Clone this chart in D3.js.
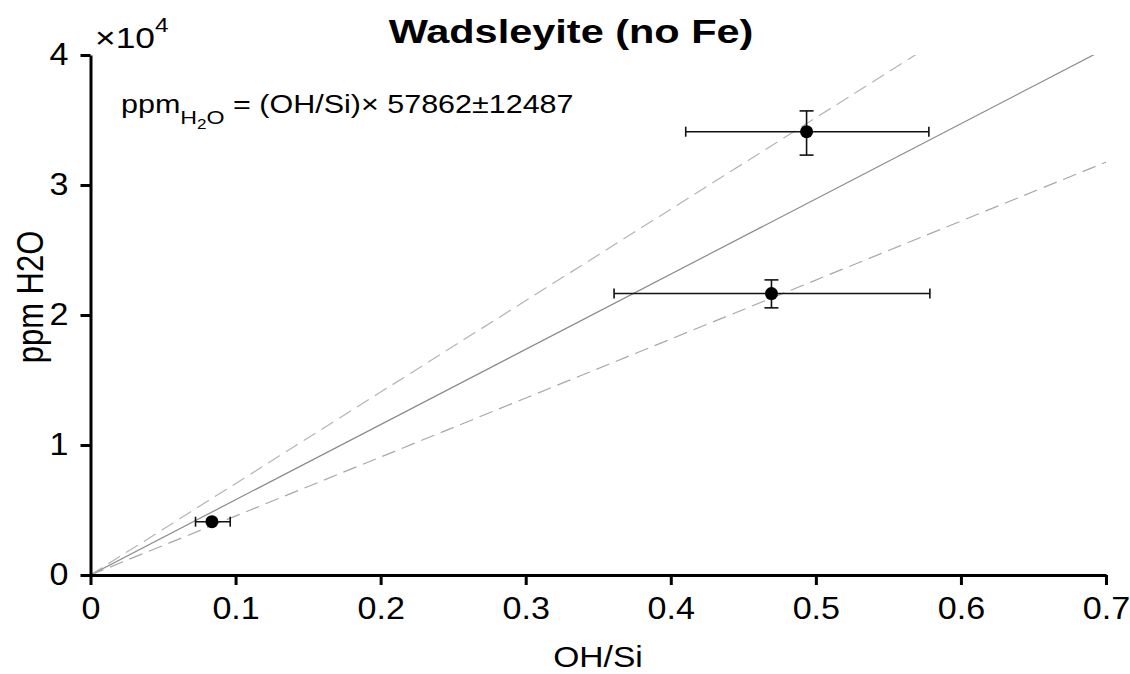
<!DOCTYPE html>
<html>
<head>
<meta charset="utf-8">
<script src="https://cdn.jsdelivr.net/npm/d3@7"></script>
<style>
  html, body { margin: 0; padding: 0; background: #fff; }
  svg { display: block; font-family: "Liberation Sans", Arial, sans-serif; }
</style>
</head>
<body>
<div id="chart"></div>
<script>
// OH/Si vs ppm H2O, wadsleyite calibration
const ohSi = [0.0837, 0.4694, 0.4936];
const ohSiLo = [0.0724, 0.3609, 0.4103];
const ohSiHi = [0.0963, 0.5786, 0.5779];
const ppm = [4100, 21650, 34100];
const ppmLo = [4100, 20550, 32300];
const ppmHi = [4100, 22700, 35700];

const slope = 57862;
const slopeErr = 12487;

const xTicks = [0, 0.1, 0.2, 0.3, 0.4, 0.5, 0.6, 0.7];
const yTicks = [0, 10000, 20000, 30000, 40000];

const W = 1130, H = 674;
const margin = { left: 90.5, top: 55, right: 24, bottom: 99 };
// the source figure's text is stretched sideways
const SX = 1.22;
const SXT = 1.1;

const svg = d3.select("#chart").append("svg")
  .attr("width", W).attr("height", H);

const x = d3.scaleLinear().domain([0, 0.7]).range([margin.left, W - margin.right]);
const y = d3.scaleLinear().domain([0, 40000]).range([H - margin.bottom, margin.top]);

svg.append("defs").append("clipPath").attr("id", "plot")
  .append("rect")
  .attr("x", x(0)).attr("y", y(40000))
  .attr("width", x(0.7) - x(0)).attr("height", y(0) - y(40000));

const fits = [
  { k: slope, dash: null, color: "#8a8a8a" },
  { k: slope + slopeErr, dash: "14,7", color: "#b4b4b4" },
  { k: slope - slopeErr, dash: "14,7", color: "#a8a8a8" }
];

const g = svg.append("g").attr("clip-path", "url(#plot)");
g.selectAll("line.fit").data(fits).join("line")
  .attr("class", "fit")
  .attr("x1", x(0)).attr("y1", y(0))
  .attr("x2", x(0.7)).attr("y2", d => y(d.k * 0.7))
  .attr("stroke", d => d.color)
  .attr("stroke-width", 1.2)
  .attr("stroke-dasharray", d => d.dash);

// error bars
const pts = ohSi.map((v, i) => ({ x: v, xl: ohSiLo[i], xh: ohSiHi[i], y: ppm[i], yl: ppmLo[i], yh: ppmHi[i] }));
const cap = 5;
const eb = svg.append("g").attr("stroke", "#111").attr("stroke-width", 1.6);
pts.forEach(p => {
  eb.append("line").attr("x1", x(p.xl)).attr("x2", x(p.xh)).attr("y1", y(p.y)).attr("y2", y(p.y));
  eb.append("line").attr("x1", x(p.xl)).attr("x2", x(p.xl)).attr("y1", y(p.y) - cap).attr("y2", y(p.y) + cap);
  eb.append("line").attr("x1", x(p.xh)).attr("x2", x(p.xh)).attr("y1", y(p.y) - cap).attr("y2", y(p.y) + cap);
  if (p.yh > p.yl) {
    eb.append("line").attr("x1", x(p.x)).attr("x2", x(p.x)).attr("y1", y(p.yl)).attr("y2", y(p.yh));
    eb.append("line").attr("x1", x(p.x) - cap - 2).attr("x2", x(p.x) + cap + 2).attr("y1", y(p.yl)).attr("y2", y(p.yl));
    eb.append("line").attr("x1", x(p.x) - cap - 2).attr("x2", x(p.x) + cap + 2).attr("y1", y(p.yh)).attr("y2", y(p.yh));
  }
});
svg.append("g").selectAll("circle").data(pts).join("circle")
  .attr("cx", d => x(d.x)).attr("cy", d => y(d.y)).attr("r", 6.5)
  .attr("fill", "#000");

// axes
const xAxis = svg.append("g").attr("transform", `translate(0,${y(0)})`)
  .call(d3.axisBottom(x).tickValues(xTicks).tickSize(10).tickSizeOuter(0).tickPadding(12)
    .tickFormat(d => d === 0 ? "0" : d3.format(".1f")(d)));
const yAxis = svg.append("g").attr("transform", `translate(${x(0)},0)`)
  .call(d3.axisLeft(y).tickValues(yTicks).tickSize(10).tickSizeOuter(0)
    .tickFormat(d => d / 10000));
[xAxis, yAxis].forEach(a => {
  a.select(".domain").attr("stroke", "#000").attr("stroke-width", 3);
  a.selectAll(".tick line").attr("stroke", "#000").attr("stroke-width", 3);
  a.selectAll(".tick text").attr("fill", "#000")
    .attr("transform", `scale(${SXT},1)`)
    .style("font-size", "31px").style("font-family", "Liberation Sans, Arial, sans-serif");
});
yAxis.selectAll(".tick text").attr("x", -22 / SXT);

function label(px, py, size, txt, extra = "", sx = SX) {
  return svg.append("text")
    .attr("transform", `translate(${px},${py}) scale(${sx},1)${extra}`)
    .style("font-size", size + "px").text(txt);
}

// labels
label(598, H - 7, 30, "OH/Si", "", 1.12).attr("text-anchor", "middle");
label(43, 297, 31, "ppm H2O", " rotate(-90)").attr("text-anchor", "middle");

label(571, 43, 34, "Wadsleyite (no Fe)").attr("text-anchor", "middle")
  .style("font-weight", "bold");

const mult = label(95, 48, 29, null);
mult.append("tspan").text("×10");
mult.append("tspan").attr("dy", -16).style("font-size", "20px").text("4");

const eq = label(121, 113, 25, null);
eq.append("tspan").text("ppm");
eq.append("tspan").attr("dy", 11).style("font-size", "19px").text("H");
eq.append("tspan").attr("dy", 5).style("font-size", "14px").text("2");
eq.append("tspan").attr("dy", -5).style("font-size", "19px").text("O");
eq.append("tspan").attr("dy", -11).text(" = (OH/Si)× 57862±12487");
</script>
</body>
</html>
